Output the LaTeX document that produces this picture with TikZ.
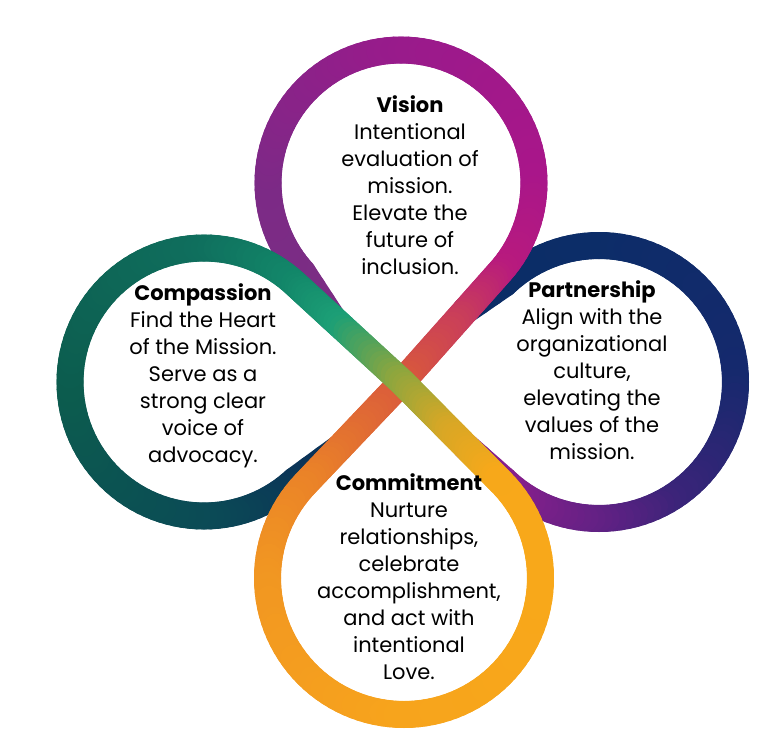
\documentclass[tikz,border=0pt]{standalone}
\usepackage{fontspec}
\setmainfont{Poppins}
\definecolor{pA}{HTML}{0B2D66}\definecolor{pB}{HTML}{0C2D68}\definecolor{pC}{HTML}{15296D}
\definecolor{pD}{HTML}{3A2479}\definecolor{pE}{HTML}{5E2183}\definecolor{pF}{HTML}{861F8C}
\definecolor{cN}{HTML}{0A3057}\definecolor{cA}{HTML}{0B3557}\definecolor{cB}{HTML}{0B4A56}
\definecolor{cC}{HTML}{0C5C4E}\definecolor{cD}{HTML}{0F6E5D}\definecolor{cE}{HTML}{128669}
\definecolor{cF}{HTML}{1C9F76}\definecolor{cG}{HTML}{8DA63E}\definecolor{cH}{HTML}{D6A726}
\definecolor{vA}{HTML}{7B2D84}\definecolor{vB}{HTML}{7C2A86}\definecolor{vC}{HTML}{981B8B}
\definecolor{vD}{HTML}{A9168A}\definecolor{vE}{HTML}{B71A7E}\definecolor{vF}{HTML}{C83C5C}
\definecolor{vG}{HTML}{D8573E}
\definecolor{oA}{HTML}{EA8228}\definecolor{oB}{HTML}{F19622}\definecolor{oC}{HTML}{F7A41C}
\definecolor{oD}{HTML}{F8A81A}
% gradient arc: cx, cy, r, angle1, angle2, colour1, colour2, pieces
\newcommand\GArc[8]{%
  \foreach \gi in {1,...,#8}{%
    \pgfmathsetmacro\ga{(#4)+((#5)-(#4))*(\gi-1)/#8}%
    \pgfmathsetmacro\gb{(#4)+((#5)-(#4))*\gi/#8}%
    \pgfmathtruncatemacro\gp{round(100*(\gi-0.5)/#8)}%
    \colorlet{gcol}{#7!\gp!#6}%
    \draw[band,gcol] ({#1+#3*cos(\ga)},{#2+#3*sin(\ga)}) -- ({#1+#3*cos(\gb)},{#2+#3*sin(\gb)});
  }}
% gradient line: x1, y1, x2, y2, colour1, colour2, pieces
\newcommand\GLine[7]{%
  \foreach \gi in {1,...,#7}{%
    \pgfmathsetmacro\ga{(\gi-1)/#7}%
    \pgfmathsetmacro\gb{\gi/#7}%
    \pgfmathtruncatemacro\gp{round(100*(\gi-0.5)/#7)}%
    \colorlet{gcol}{#6!\gp!#5}%
    \draw[band,gcol] ({#1+((#3)-(#1))*\ga},{#2+((#4)-(#2))*\ga}) -- ({#1+((#3)-(#1))*\gb},{#2+((#4)-(#2))*\gb});
  }}
\begin{document}
\begin{tikzpicture}[x=1pt,y=-1pt,
  band/.style={line width=27pt,line cap=round,line join=round},
  txt/.style={anchor=base,inner sep=0pt,font=\fontsize{21}{27}\selectfont}]
\useasboundingbox (0,0) rectangle (771,753);
% geometry
\def\Tx{402}\def\Ty{382}
\def\Vx{401}\def\Vy{183}\def\Vr{133}
\def\Px{599}\def\Py{382}\def\Pr{136.5}
\def\Cx{204}\def\Cy{382}\def\Cr{134}
\def\Mx{404}\def\My{578}\def\Mr{136.5}
\pgfmathsetmacro\Vb{atan2(\Ty-\Vy,\Tx-\Vx)}\pgfmathsetmacro\Va{acos(\Vr/veclen(\Tx-\Vx,\Ty-\Vy))}
\pgfmathsetmacro\Pb{atan2(\Ty-\Py,\Tx-\Px)}\pgfmathsetmacro\Pa{acos(\Pr/veclen(\Tx-\Px,\Ty-\Py))}
\pgfmathsetmacro\Cb{atan2(\Ty-\Cy,\Tx-\Cx)}\pgfmathsetmacro\Ca{acos(\Cr/veclen(\Tx-\Cx,\Ty-\Cy))}
\pgfmathsetmacro\Mb{atan2(\Ty-\My,\Tx-\Mx)}\pgfmathsetmacro\Ma{acos(\Mr/veclen(\Tx-\Mx,\Ty-\My))}
% tangent angles
\pgfmathsetmacro\VLa{\Vb+\Va}\pgfmathsetmacro\VRa{\Vb-\Va+360}
\pgfmathsetmacro\PTa{\Pb+\Pa}\pgfmathsetmacro\PBa{\Pb-\Pa+360}
\pgfmathsetmacro\CBa{\Cb+\Ca}\pgfmathsetmacro\CTa{\Cb-\Ca+360}
\pgfmathsetmacro\MLa{\Mb-\Ma}\pgfmathsetmacro\MRa{\Mb+\Ma-360}
% tangent points
\pgfmathsetmacro\VLx{\Vx+\Vr*cos(\VLa)}\pgfmathsetmacro\VLy{\Vy+\Vr*sin(\VLa)}
\pgfmathsetmacro\VRx{\Vx+\Vr*cos(\VRa)}\pgfmathsetmacro\VRy{\Vy+\Vr*sin(\VRa)}
\pgfmathsetmacro\PTx{\Px+\Pr*cos(\PTa)}\pgfmathsetmacro\PTy{\Py+\Pr*sin(\PTa)}
\pgfmathsetmacro\PBx{\Px+\Pr*cos(\PBa)}\pgfmathsetmacro\PBy{\Py+\Pr*sin(\PBa)}
\pgfmathsetmacro\CTx{\Cx+\Cr*cos(\CTa)}\pgfmathsetmacro\CTy{\Cy+\Cr*sin(\CTa)}
\pgfmathsetmacro\CBx{\Cx+\Cr*cos(\CBa)}\pgfmathsetmacro\CBy{\Cy+\Cr*sin(\CBa)}
\pgfmathsetmacro\LCx{\Mx+\Mr*cos(\MLa)}\pgfmathsetmacro\LCy{\My+\Mr*sin(\MLa)}
\pgfmathsetmacro\RCx{\Mx+\Mr*cos(\MRa)}\pgfmathsetmacro\RCy{\My+\Mr*sin(\MRa)}
% points where hidden sides end (under covering bands)
\pgfmathsetmacro\QAx{\CTx+0.35*(\Tx-\CTx)}\pgfmathsetmacro\QAy{\CTy+0.35*(\Ty-\CTy)}
\pgfmathsetmacro\QBx{\LCx+0.35*(\Tx-\LCx)}\pgfmathsetmacro\QBy{\LCy+0.35*(\Ty-\LCy)}
\pgfmathsetmacro\QCx{\VRx+0.35*(\Tx-\VRx)}\pgfmathsetmacro\QCy{\VRy+0.35*(\Ty-\VRy)}
\pgfmathsetmacro\QDx{\RCx+0.35*(\Tx-\RCx)}\pgfmathsetmacro\QDy{\RCy+0.35*(\Ty-\RCy)}
% mid points of visible diagonals
\pgfmathsetmacro\VMx{\VRx+0.45*(\Tx-\VRx)}\pgfmathsetmacro\VMy{\VRy+0.45*(\Ty-\VRy)}
\pgfmathsetmacro\CMx{\CTx+0.45*(\Tx-\CTx)}\pgfmathsetmacro\CMy{\CTy+0.45*(\Ty-\CTy)}
\pgfmathsetmacro\YMx{\Tx+0.5*(\RCx-\Tx)}\pgfmathsetmacro\YMy{\Ty+0.5*(\RCy-\Ty)}
% 1. Partnership loop
\GLine{\QCx}{\QCy}{\PTx}{\PTy}{pA}{pA}{3}
\GArc{\Px}{\Py}{\Pr}{\PTa}{270}{pA}{pB}{15}
\GArc{\Px}{\Py}{\Pr}{270}{360}{pB}{pC}{30}
\GArc{\Px}{\Py}{\Pr}{360}{420}{pC}{pD}{20}
\GArc{\Px}{\Py}{\Pr}{420}{450}{pD}{pE}{10}
\GArc{\Px}{\Py}{\Pr}{450}{\PBa}{pE}{pF}{15}
\GLine{\PBx}{\PBy}{\QDx}{\QDy}{pF}{pF}{3}
% 2. Compassion, lower part
\GLine{\QBx}{\QBy}{\CBx}{\CBy}{cN}{cA}{3}
\GArc{\Cx}{\Cy}{\Cr}{\CBa}{90}{cA}{cB}{15}
\GArc{\Cx}{\Cy}{\Cr}{90}{180}{cB}{cC}{30}
% 3. Vision loop, red-orange diagonal, Commitment loop
\GLine{\QAx}{\QAy}{\VLx}{\VLy}{vA}{vA}{3}
\GArc{\Vx}{\Vy}{\Vr}{\VLa}{180}{vA}{vB}{15}
\GArc{\Vx}{\Vy}{\Vr}{180}{270}{vB}{vC}{30}
\GArc{\Vx}{\Vy}{\Vr}{270}{360}{vC}{vD}{30}
\GArc{\Vx}{\Vy}{\Vr}{360}{\VRa}{vD}{vE}{15}
\GLine{\VRx}{\VRy}{\VMx}{\VMy}{vE}{vF}{15}
\GLine{\VMx}{\VMy}{\Tx}{\Ty}{vF}{vG}{15}
\GLine{\Tx}{\Ty}{\LCx}{\LCy}{vG}{oA}{25}
\GArc{\Mx}{\My}{\Mr}{\MLa}{-180}{oA}{oB}{15}
\GArc{\Mx}{\My}{\Mr}{-180}{-270}{oB}{oC}{30}
\GArc{\Mx}{\My}{\Mr}{-270}{-360}{oC}{oD}{30}
\GArc{\Mx}{\My}{\Mr}{-360}{\MRa}{oD}{oD}{15}
% 4. Compassion upper part and green-yellow diagonal
\GArc{\Cx}{\Cy}{\Cr}{180}{270}{cC}{cD}{30}
\GArc{\Cx}{\Cy}{\Cr}{270}{\CTa}{cD}{cE}{15}
\GLine{\CTx}{\CTy}{\CMx}{\CMy}{cE}{cF}{15}
\GLine{\CMx}{\CMy}{\Tx}{\Ty}{cF}{cG}{15}
\GLine{\Tx}{\Ty}{\YMx}{\YMy}{cG}{cH}{15}
\GLine{\YMx}{\YMy}{\RCx}{\RCy}{cH}{oD}{15}
% texts
\node[txt] (vision) at (410,112) {\begin{tabular}[t]{@{}c@{}}\textbf{Vision}\\Intentional\\evaluation of\\mission.\\Elevate the\\future of\\inclusion.\end{tabular}};
\node[txt] (partnership) at (592,297) {\begin{tabular}[t]{@{}c@{}}\textbf{Partnership}\\Align with the\\organizational\\culture,\\elevating the\\values of the\\mission.\end{tabular}};
\node[txt] (compassion) at (203,300) {\begin{tabular}[t]{@{}c@{}}\textbf{Compassion}\\Find the Heart\\of the Mission.\\Serve as a\\strong clear\\voice of\\advocacy.\end{tabular}};
\node[txt] (commitment) at (409,490) {\begin{tabular}[t]{@{}c@{}}\textbf{Commitment}\\Nurture\\relationships,\\celebrate\\accomplishment,\\and act with\\intentional\\Love.\end{tabular}};
\end{tikzpicture}
\end{document}
